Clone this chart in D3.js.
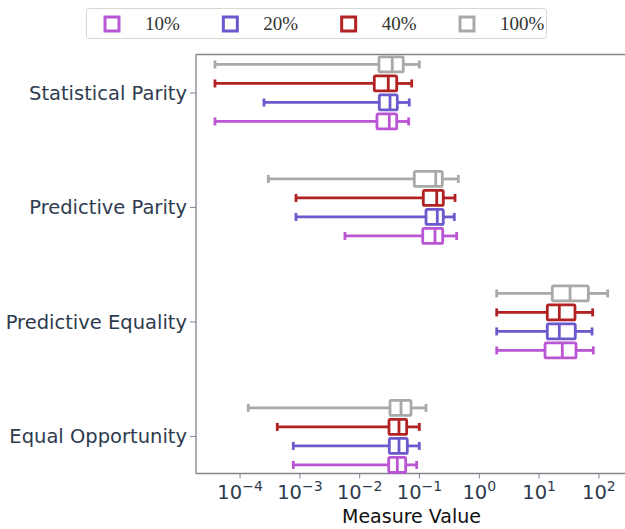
<!DOCTYPE html>
<html><head><meta charset="utf-8">
<script src="https://cdn.jsdelivr.net/npm/d3@7"></script>
<style>body{margin:0;background:#fff}svg{display:block}</style>
</head><body>
<svg id="c" width="625" height="529"></svg>
<script>
const categories = ["Statistical Parity","Predictive Parity","Predictive Equality","Equal Opportunity"];
const seriesNames = ["100%","40%","20%","10%"]; // top-to-bottom inside a group
const legendOrder = ["10%","20%","40%","100%"];
const colors = {"10%":"#ba55d3","20%":"#6a5acd","40%":"#b22222","100%":"#a9a9a9"};
// log10 values: [whiskerLow, Q1, median, Q3, whiskerHigh]
const s100 = [[-4.42,-1.677,-1.455,-1.271,-1.003],[-3.528,-1.087,-0.729,-0.619,-0.351],[0.291,1.221,1.517,1.823,2.147],[-3.863,-1.493,-1.309,-1.142,-0.891]];
const s40  = [[-4.42,-1.756,-1.522,-1.381,-1.13],[-3.065,-0.936,-0.712,-0.602,-0.406],[0.291,1.137,1.338,1.6,1.896],[-3.378,-1.51,-1.343,-1.214,-1.003]];
const s20  = [[-3.60,-1.672,-1.493,-1.371,-1.171],[-3.065,-0.891,-0.702,-0.602,-0.418],[0.291,1.137,1.338,1.605,1.885],[-3.11,-1.505,-1.343,-1.204,-1.003]];
const s10  = [[-4.42,-1.711,-1.505,-1.381,-1.181],[-2.246,-0.946,-0.741,-0.612,-0.378],[0.291,1.099,1.388,1.617,1.906],[-3.11,-1.515,-1.371,-1.231,-1.047]];
const seriesData = {"100%":s100,"40%":s40,"20%":s20,"10%":s10};
const xTicks = [1e-4,1e-3,1e-2,1e-1,1,10,100];
const xTickExp = ["−4","−3","−2","−1","0","1","2"];

const svg = d3.select("#c");
const L=196, R=633, T=54.5, B=473.5;
const x = d3.scaleLog().domain([Math.pow(10,-4.737),Math.pow(10,2.57)]).range([L,R]);
const y = d3.scaleLinear().domain([-0.336,3.324]).range([T,B]);
const offsets = d3.scalePoint().domain(seriesNames).range([-28.5,28.5]);
const spine="#7f868e", txt="#2e3b4e";

// spines
svg.append("line").attr("x1",L).attr("x2",L).attr("y1",T).attr("y2",B).attr("stroke",spine).attr("stroke-width",1.3);
svg.append("line").attr("x1",L).attr("x2",625).attr("y1",T).attr("y2",T).attr("stroke",spine).attr("stroke-width",1.3);
svg.append("line").attr("x1",L).attr("x2",625).attr("y1",B).attr("y2",B).attr("stroke",spine).attr("stroke-width",1.3);

// x ticks
const xg = svg.append("g");
xTicks.forEach((t,i)=>{
  const px = x(t);
  xg.append("line").attr("x1",px).attr("x2",px).attr("y1",B).attr("y2",B+5).attr("stroke",spine).attr("stroke-width",1);
  const tx = xg.append("text").attr("x",px).attr("y",B+25).attr("text-anchor","middle")
    .attr("font-family","DejaVu Sans").attr("font-size",19.5).attr("fill",txt);
  tx.append("tspan").text("10");
  tx.append("tspan").attr("dy",-8).attr("font-size",14).text(xTickExp[i]);
});
svg.append("text").attr("x",411.5).attr("y",523).attr("text-anchor","middle")
  .attr("font-family","DejaVu Sans").attr("font-size",19).attr("fill","#111").text("Measure Value");

// y ticks
categories.forEach((c,i)=>{
  svg.append("line").attr("x1",L-6).attr("x2",L).attr("y1",y(i)).attr("y2",y(i)).attr("stroke",spine);
  svg.append("text").attr("x",L-9).attr("y",y(i)).attr("dy","0.35em").attr("text-anchor","end")
    .attr("font-family","DejaVu Sans").attr("font-size",19.5).attr("fill",txt).text(c);
});

// boxes
const bh=15, capH=8, lw=2.8;
seriesNames.forEach(s=>{
  const col = colors[s];
  const g = svg.append("g").attr("stroke",col).attr("stroke-width",lw).attr("fill","none");
  seriesData[s].forEach((d,i)=>{
    const cy = y(i)+offsets(s);
    const [lo,q1,md,q3,hi] = d.map(v=>x(Math.pow(10,v)));
    g.append("line").attr("x1",lo).attr("x2",q1).attr("y1",cy).attr("y2",cy);
    g.append("line").attr("x1",q3).attr("x2",hi).attr("y1",cy).attr("y2",cy);
    g.append("line").attr("x1",lo).attr("x2",lo).attr("y1",cy-capH/2).attr("y2",cy+capH/2);
    g.append("line").attr("x1",hi).attr("x2",hi).attr("y1",cy-capH/2).attr("y2",cy+capH/2);
    g.append("rect").attr("x",q1).attr("y",cy-bh/2).attr("width",q3-q1).attr("height",bh).attr("rx",1.5).attr("fill","#fff");
    g.append("line").attr("x1",md).attr("x2",md).attr("y1",cy-bh/2).attr("y2",cy+bh/2);
  });
});

// legend
svg.append("rect").attr("x",86.5).attr("y",8.5).attr("width",460).attr("height",30).attr("rx",3)
  .attr("fill","#fff").attr("stroke","#d6d6d6");
const lx = d3.scalePoint().domain(legendOrder).range([112,467]);
legendOrder.forEach(s=>{
  svg.append("rect").attr("x",lx(s)-7).attr("y",17).attr("width",14).attr("height",14)
    .attr("fill","#fff").attr("stroke",colors[s]).attr("stroke-width",3);
  svg.append("text").attr("x",lx(s)+33).attr("y",30).attr("font-family","Liberation Serif")
    .attr("font-size",19).attr("fill","#333").text(s);
});
</script>
</body></html>
